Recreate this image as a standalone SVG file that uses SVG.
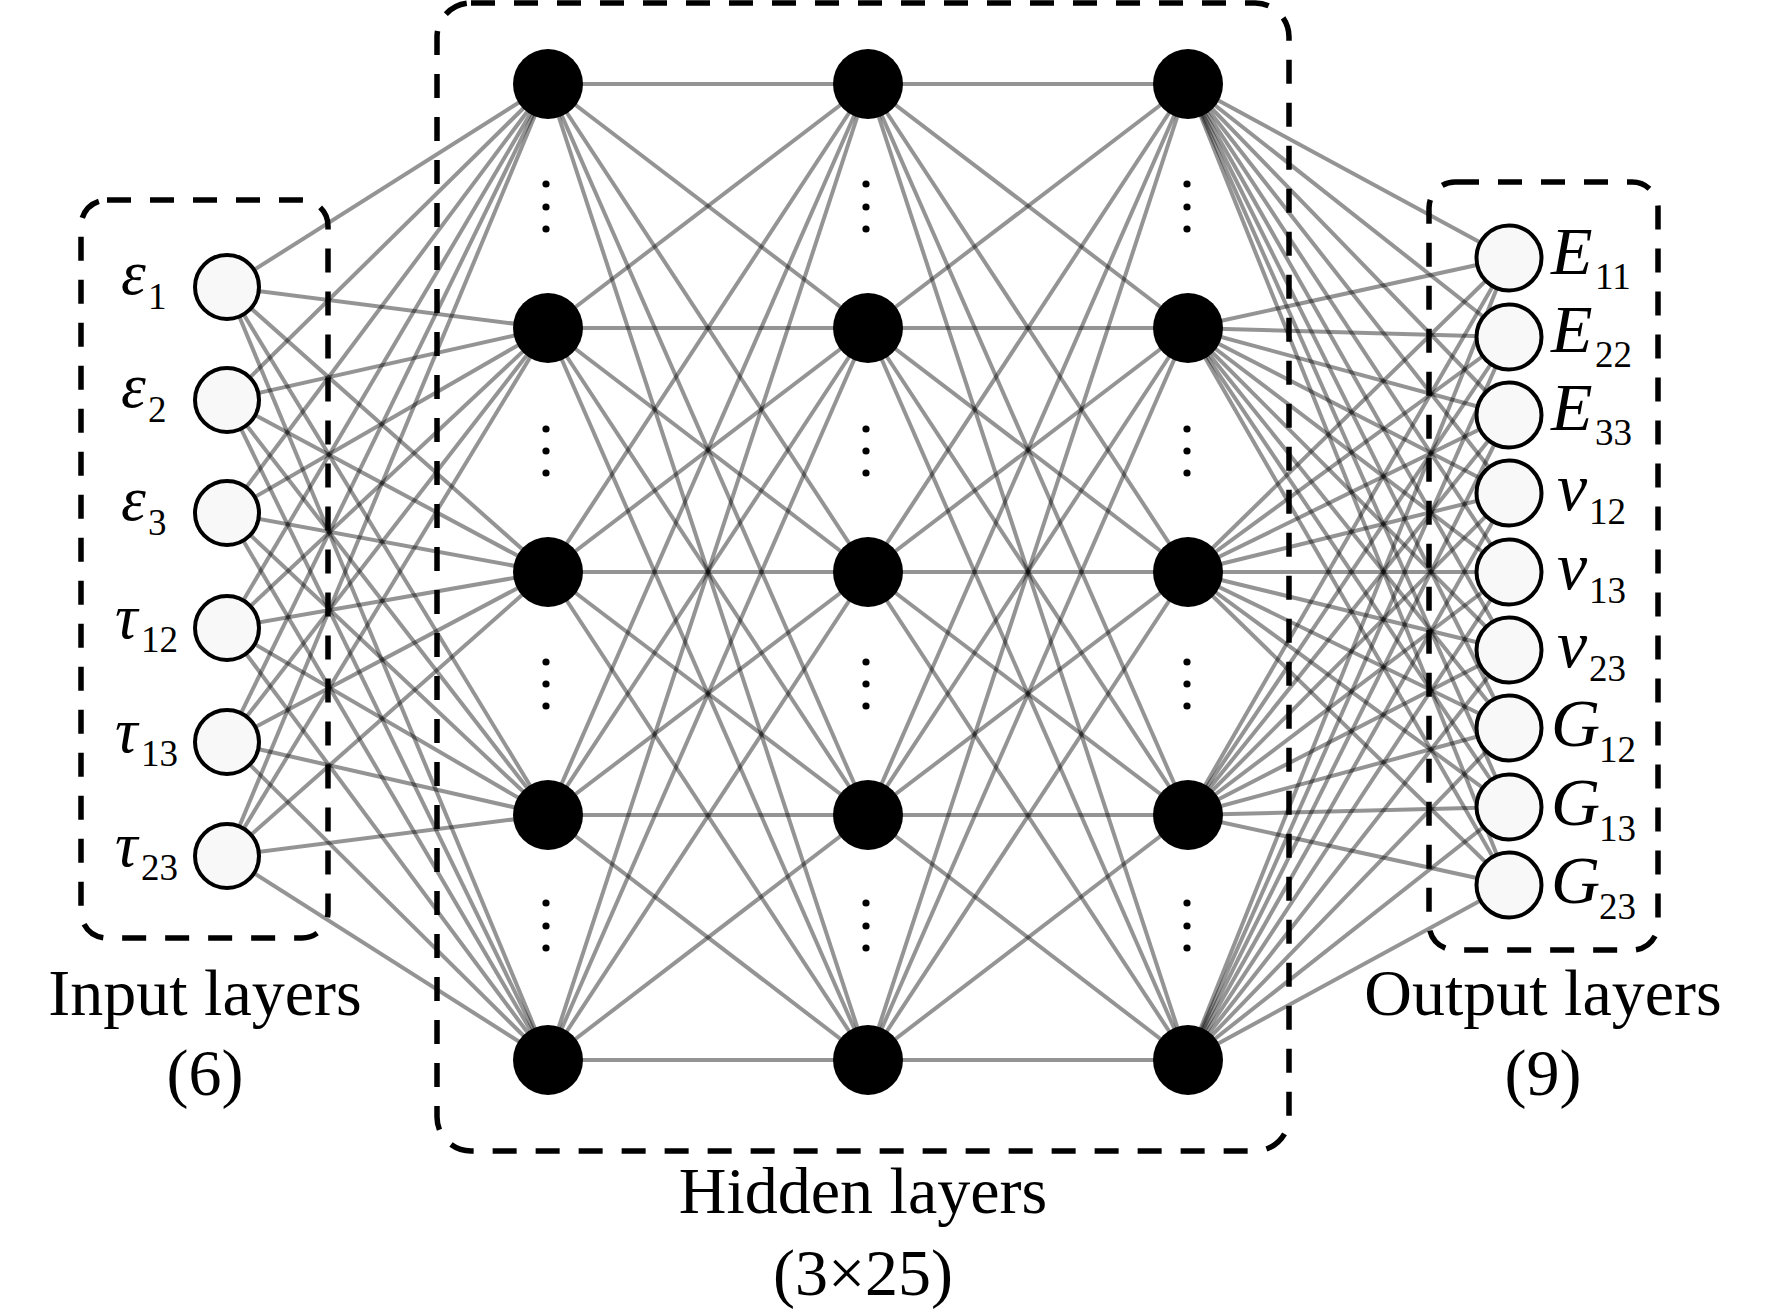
<svg xmlns="http://www.w3.org/2000/svg" width="1772" height="1315" viewBox="0 0 1772 1315">
<style>
.c{stroke:#000;stroke-opacity:.42;stroke-width:4;fill:none}
.box{fill:none;stroke:#000;stroke-width:5.5;stroke-dasharray:24 19}
.io{fill:#f8f8f8;stroke:#000;stroke-width:4}
.hid{fill:#000}
.dot{fill:#000}
text{font-family:"Liberation Serif","Times New Roman",serif;fill:#000}
.lab{font-size:63px;font-style:italic}
.sub{font-size:37px;font-style:normal}
.olab{font-size:68px;font-style:italic}
.osub{font-size:37px;font-style:normal}
.cap{font-size:66px;text-anchor:middle}
</style>
<rect width="1772" height="1315" fill="#fff"/>
<g id="connectors">
<line class="c" x1="227" y1="287" x2="548" y2="84"/><line class="c" x1="227" y1="287" x2="548" y2="328"/><line class="c" x1="227" y1="287" x2="548" y2="572"/><line class="c" x1="227" y1="287" x2="548" y2="815"/><line class="c" x1="227" y1="287" x2="548" y2="1060"/>
<line class="c" x1="227" y1="400" x2="548" y2="84"/><line class="c" x1="227" y1="400" x2="548" y2="328"/><line class="c" x1="227" y1="400" x2="548" y2="572"/><line class="c" x1="227" y1="400" x2="548" y2="815"/><line class="c" x1="227" y1="400" x2="548" y2="1060"/>
<line class="c" x1="227" y1="513" x2="548" y2="84"/><line class="c" x1="227" y1="513" x2="548" y2="328"/><line class="c" x1="227" y1="513" x2="548" y2="572"/><line class="c" x1="227" y1="513" x2="548" y2="815"/><line class="c" x1="227" y1="513" x2="548" y2="1060"/>
<line class="c" x1="227" y1="628" x2="548" y2="84"/><line class="c" x1="227" y1="628" x2="548" y2="328"/><line class="c" x1="227" y1="628" x2="548" y2="572"/><line class="c" x1="227" y1="628" x2="548" y2="815"/><line class="c" x1="227" y1="628" x2="548" y2="1060"/>
<line class="c" x1="227" y1="742" x2="548" y2="84"/><line class="c" x1="227" y1="742" x2="548" y2="328"/><line class="c" x1="227" y1="742" x2="548" y2="572"/><line class="c" x1="227" y1="742" x2="548" y2="815"/><line class="c" x1="227" y1="742" x2="548" y2="1060"/>
<line class="c" x1="227" y1="856" x2="548" y2="84"/><line class="c" x1="227" y1="856" x2="548" y2="328"/><line class="c" x1="227" y1="856" x2="548" y2="572"/><line class="c" x1="227" y1="856" x2="548" y2="815"/><line class="c" x1="227" y1="856" x2="548" y2="1060"/>
<line class="c" x1="548" y1="84" x2="868" y2="84"/><line class="c" x1="548" y1="84" x2="868" y2="328"/><line class="c" x1="548" y1="84" x2="868" y2="572"/><line class="c" x1="548" y1="84" x2="868" y2="815"/><line class="c" x1="548" y1="84" x2="868" y2="1060"/>
<line class="c" x1="548" y1="328" x2="868" y2="84"/><line class="c" x1="548" y1="328" x2="868" y2="328"/><line class="c" x1="548" y1="328" x2="868" y2="572"/><line class="c" x1="548" y1="328" x2="868" y2="815"/><line class="c" x1="548" y1="328" x2="868" y2="1060"/>
<line class="c" x1="548" y1="572" x2="868" y2="84"/><line class="c" x1="548" y1="572" x2="868" y2="328"/><line class="c" x1="548" y1="572" x2="868" y2="572"/><line class="c" x1="548" y1="572" x2="868" y2="815"/><line class="c" x1="548" y1="572" x2="868" y2="1060"/>
<line class="c" x1="548" y1="815" x2="868" y2="84"/><line class="c" x1="548" y1="815" x2="868" y2="328"/><line class="c" x1="548" y1="815" x2="868" y2="572"/><line class="c" x1="548" y1="815" x2="868" y2="815"/><line class="c" x1="548" y1="815" x2="868" y2="1060"/>
<line class="c" x1="548" y1="1060" x2="868" y2="84"/><line class="c" x1="548" y1="1060" x2="868" y2="328"/><line class="c" x1="548" y1="1060" x2="868" y2="572"/><line class="c" x1="548" y1="1060" x2="868" y2="815"/><line class="c" x1="548" y1="1060" x2="868" y2="1060"/>
<line class="c" x1="868" y1="84" x2="1188" y2="84"/><line class="c" x1="868" y1="84" x2="1188" y2="328"/><line class="c" x1="868" y1="84" x2="1188" y2="572"/><line class="c" x1="868" y1="84" x2="1188" y2="815"/><line class="c" x1="868" y1="84" x2="1188" y2="1060"/>
<line class="c" x1="868" y1="328" x2="1188" y2="84"/><line class="c" x1="868" y1="328" x2="1188" y2="328"/><line class="c" x1="868" y1="328" x2="1188" y2="572"/><line class="c" x1="868" y1="328" x2="1188" y2="815"/><line class="c" x1="868" y1="328" x2="1188" y2="1060"/>
<line class="c" x1="868" y1="572" x2="1188" y2="84"/><line class="c" x1="868" y1="572" x2="1188" y2="328"/><line class="c" x1="868" y1="572" x2="1188" y2="572"/><line class="c" x1="868" y1="572" x2="1188" y2="815"/><line class="c" x1="868" y1="572" x2="1188" y2="1060"/>
<line class="c" x1="868" y1="815" x2="1188" y2="84"/><line class="c" x1="868" y1="815" x2="1188" y2="328"/><line class="c" x1="868" y1="815" x2="1188" y2="572"/><line class="c" x1="868" y1="815" x2="1188" y2="815"/><line class="c" x1="868" y1="815" x2="1188" y2="1060"/>
<line class="c" x1="868" y1="1060" x2="1188" y2="84"/><line class="c" x1="868" y1="1060" x2="1188" y2="328"/><line class="c" x1="868" y1="1060" x2="1188" y2="572"/><line class="c" x1="868" y1="1060" x2="1188" y2="815"/><line class="c" x1="868" y1="1060" x2="1188" y2="1060"/>
<line class="c" x1="1188" y1="84" x2="1509" y2="258"/><line class="c" x1="1188" y1="84" x2="1509" y2="337"/><line class="c" x1="1188" y1="84" x2="1509" y2="415"/><line class="c" x1="1188" y1="84" x2="1509" y2="493"/><line class="c" x1="1188" y1="84" x2="1509" y2="572"/><line class="c" x1="1188" y1="84" x2="1509" y2="650"/><line class="c" x1="1188" y1="84" x2="1509" y2="728"/><line class="c" x1="1188" y1="84" x2="1509" y2="807"/><line class="c" x1="1188" y1="84" x2="1509" y2="885"/>
<line class="c" x1="1188" y1="328" x2="1509" y2="258"/><line class="c" x1="1188" y1="328" x2="1509" y2="337"/><line class="c" x1="1188" y1="328" x2="1509" y2="415"/><line class="c" x1="1188" y1="328" x2="1509" y2="493"/><line class="c" x1="1188" y1="328" x2="1509" y2="572"/><line class="c" x1="1188" y1="328" x2="1509" y2="650"/><line class="c" x1="1188" y1="328" x2="1509" y2="728"/><line class="c" x1="1188" y1="328" x2="1509" y2="807"/><line class="c" x1="1188" y1="328" x2="1509" y2="885"/>
<line class="c" x1="1188" y1="572" x2="1509" y2="258"/><line class="c" x1="1188" y1="572" x2="1509" y2="337"/><line class="c" x1="1188" y1="572" x2="1509" y2="415"/><line class="c" x1="1188" y1="572" x2="1509" y2="493"/><line class="c" x1="1188" y1="572" x2="1509" y2="572"/><line class="c" x1="1188" y1="572" x2="1509" y2="650"/><line class="c" x1="1188" y1="572" x2="1509" y2="728"/><line class="c" x1="1188" y1="572" x2="1509" y2="807"/><line class="c" x1="1188" y1="572" x2="1509" y2="885"/>
<line class="c" x1="1188" y1="815" x2="1509" y2="258"/><line class="c" x1="1188" y1="815" x2="1509" y2="337"/><line class="c" x1="1188" y1="815" x2="1509" y2="415"/><line class="c" x1="1188" y1="815" x2="1509" y2="493"/><line class="c" x1="1188" y1="815" x2="1509" y2="572"/><line class="c" x1="1188" y1="815" x2="1509" y2="650"/><line class="c" x1="1188" y1="815" x2="1509" y2="728"/><line class="c" x1="1188" y1="815" x2="1509" y2="807"/><line class="c" x1="1188" y1="815" x2="1509" y2="885"/>
<line class="c" x1="1188" y1="1060" x2="1509" y2="258"/><line class="c" x1="1188" y1="1060" x2="1509" y2="337"/><line class="c" x1="1188" y1="1060" x2="1509" y2="415"/><line class="c" x1="1188" y1="1060" x2="1509" y2="493"/><line class="c" x1="1188" y1="1060" x2="1509" y2="572"/><line class="c" x1="1188" y1="1060" x2="1509" y2="650"/><line class="c" x1="1188" y1="1060" x2="1509" y2="728"/><line class="c" x1="1188" y1="1060" x2="1509" y2="807"/><line class="c" x1="1188" y1="1060" x2="1509" y2="885"/>
</g>
<g id="boxes">
<rect id="input-box" class="box" x="81" y="200" width="247" height="738" rx="26"/>
<rect id="hidden-box" class="box" x="437" y="3" width="852" height="1148" rx="34"/>
<rect id="output-box" class="box" x="1429" y="182" width="229" height="768" rx="26"/>
</g>
<g id="input-layer">
<g id="in1"><circle class="io" cx="227" cy="287" r="32"/><text class="lab" x="121" y="294">ε<tspan class="sub" x="148" y="309">1</tspan></text></g>
<g id="in2"><circle class="io" cx="227" cy="400" r="32"/><text class="lab" x="121" y="407">ε<tspan class="sub" x="148" y="422">2</tspan></text></g>
<g id="in3"><circle class="io" cx="227" cy="513" r="32"/><text class="lab" x="121" y="520">ε<tspan class="sub" x="148" y="535">3</tspan></text></g>
<g id="in4"><circle class="io" cx="227" cy="628" r="32"/><text class="lab" x="115" y="638">τ<tspan class="sub" x="141" y="652">12</tspan></text></g>
<g id="in5"><circle class="io" cx="227" cy="742" r="32"/><text class="lab" x="115" y="752">τ<tspan class="sub" x="141" y="766">13</tspan></text></g>
<g id="in6"><circle class="io" cx="227" cy="856" r="32"/><text class="lab" x="115" y="866">τ<tspan class="sub" x="141" y="880">23</tspan></text></g>
</g>
<g id="hidden-layers">
<g id="h1"><circle class="hid" cx="548" cy="84" r="35"/><circle class="hid" cx="548" cy="328" r="35"/><circle class="hid" cx="548" cy="572" r="35"/><circle class="hid" cx="548" cy="815" r="35"/><circle class="hid" cx="548" cy="1060" r="35"/></g>
<g id="h2"><circle class="hid" cx="868" cy="84" r="35"/><circle class="hid" cx="868" cy="328" r="35"/><circle class="hid" cx="868" cy="572" r="35"/><circle class="hid" cx="868" cy="815" r="35"/><circle class="hid" cx="868" cy="1060" r="35"/></g>
<g id="h3"><circle class="hid" cx="1188" cy="84" r="35"/><circle class="hid" cx="1188" cy="328" r="35"/><circle class="hid" cx="1188" cy="572" r="35"/><circle class="hid" cx="1188" cy="815" r="35"/><circle class="hid" cx="1188" cy="1060" r="35"/></g>
<g id="ellipses">
<circle class="dot" cx="546" cy="184" r="3.6"/><circle class="dot" cx="546" cy="207" r="3.6"/><circle class="dot" cx="546" cy="229" r="3.6"/>
<circle class="dot" cx="546" cy="429" r="3.6"/><circle class="dot" cx="546" cy="451" r="3.6"/><circle class="dot" cx="546" cy="473" r="3.6"/>
<circle class="dot" cx="546" cy="662" r="3.6"/><circle class="dot" cx="546" cy="684" r="3.6"/><circle class="dot" cx="546" cy="706" r="3.6"/>
<circle class="dot" cx="546" cy="903" r="3.6"/><circle class="dot" cx="546" cy="926" r="3.6"/><circle class="dot" cx="546" cy="948" r="3.6"/>
<circle class="dot" cx="866" cy="184" r="3.6"/><circle class="dot" cx="866" cy="207" r="3.6"/><circle class="dot" cx="866" cy="229" r="3.6"/>
<circle class="dot" cx="866" cy="429" r="3.6"/><circle class="dot" cx="866" cy="451" r="3.6"/><circle class="dot" cx="866" cy="473" r="3.6"/>
<circle class="dot" cx="866" cy="662" r="3.6"/><circle class="dot" cx="866" cy="684" r="3.6"/><circle class="dot" cx="866" cy="706" r="3.6"/>
<circle class="dot" cx="866" cy="903" r="3.6"/><circle class="dot" cx="866" cy="926" r="3.6"/><circle class="dot" cx="866" cy="948" r="3.6"/>
<circle class="dot" cx="1187" cy="184" r="3.6"/><circle class="dot" cx="1187" cy="207" r="3.6"/><circle class="dot" cx="1187" cy="229" r="3.6"/>
<circle class="dot" cx="1187" cy="429" r="3.6"/><circle class="dot" cx="1187" cy="451" r="3.6"/><circle class="dot" cx="1187" cy="473" r="3.6"/>
<circle class="dot" cx="1187" cy="662" r="3.6"/><circle class="dot" cx="1187" cy="684" r="3.6"/><circle class="dot" cx="1187" cy="706" r="3.6"/>
<circle class="dot" cx="1187" cy="903" r="3.6"/><circle class="dot" cx="1187" cy="926" r="3.6"/><circle class="dot" cx="1187" cy="948" r="3.6"/>
</g>
</g>
<g id="output-layer">
<g id="out1"><circle class="io" cx="1509" cy="258" r="32.5"/><text class="olab" x="1551" y="274">E<tspan class="osub" x="1595" y="289">11</tspan></text></g>
<g id="out2"><circle class="io" cx="1509" cy="337" r="32.5"/><text class="olab" x="1551" y="352">E<tspan class="osub" x="1595" y="367">22</tspan></text></g>
<g id="out3"><circle class="io" cx="1509" cy="415" r="32.5"/><text class="olab" x="1551" y="430">E<tspan class="osub" x="1595" y="445">33</tspan></text></g>
<g id="out4"><circle class="io" cx="1509" cy="493" r="32.5"/><text class="olab" x="1557" y="510">v<tspan class="osub" x="1589" y="524">12</tspan></text></g>
<g id="out5"><circle class="io" cx="1509" cy="572" r="32.5"/><text class="olab" x="1557" y="589">v<tspan class="osub" x="1589" y="603">13</tspan></text></g>
<g id="out6"><circle class="io" cx="1509" cy="650" r="32.5"/><text class="olab" x="1557" y="667">v<tspan class="osub" x="1589" y="681">23</tspan></text></g>
<g id="out7"><circle class="io" cx="1509" cy="728" r="32.5"/><text class="olab" x="1551" y="746">G<tspan class="osub" x="1599" y="762">12</tspan></text></g>
<g id="out8"><circle class="io" cx="1509" cy="807" r="32.5"/><text class="olab" x="1551" y="825">G<tspan class="osub" x="1599" y="841">13</tspan></text></g>
<g id="out9"><circle class="io" cx="1509" cy="885" r="32.5"/><text class="olab" x="1551" y="903">G<tspan class="osub" x="1599" y="919">23</tspan></text></g>
</g>
<g id="captions">
<text class="cap" x="205" y="1015">Input layers</text>
<text class="cap" x="205" y="1095">(6)</text>
<text class="cap" x="863" y="1213">Hidden layers</text>
<text class="cap" x="863" y="1295">(3×25)</text>
<text class="cap" x="1543" y="1015">Output layers</text>
<text class="cap" x="1543" y="1095">(9)</text>
</g>
</svg>
